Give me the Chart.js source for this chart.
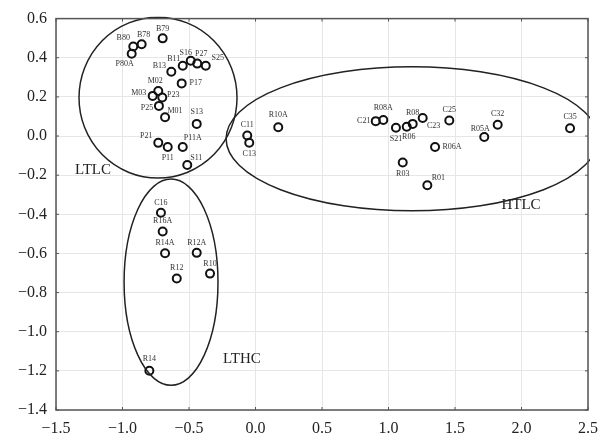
<!DOCTYPE html>
<html>
<head>
<meta charset="utf-8">
<script src="https://cdn.jsdelivr.net/npm/chart.js@4.4.1/dist/chart.umd.min.js"></script>
<style>
  body { margin: 0; background: #fff; }
  #wrap { width: 613px; height: 441px; }
</style>
</head>
<body>
<div id="wrap"><canvas id="myChart"></canvas></div>
<script>
/* datos */
const sampleNames = ['B79', 'B78', 'B80', 'P80A', 'S16', 'P27', 'S25', 'B11', 'B13', 'P17',
  'M02', 'M03', 'P23', 'P25', 'M01', 'S13', 'P21', 'P11', 'P11A', 'S11',
  'C11', 'C13', 'R10A', 'C21', 'R08A', 'S21', 'R06', 'R08', 'C23', 'R03',
  'C25', 'R06A', 'R05A', 'C32', 'C35', 'R01',
  'C16', 'R16A', 'R14A', 'R12A', 'R12', 'R10', 'R14'];
const scoreX = [-0.698, -0.856, -0.919, -0.931, -0.487, -0.438, -0.374, -0.547, -0.633, -0.555,
  -0.731, -0.773, -0.701, -0.726, -0.680, -0.442, -0.731, -0.660, -0.547, -0.513,
  -0.062, -0.047, 0.171, 0.904, 0.961, 1.056, 1.137, 1.182, 1.257, 1.107,
  1.457, 1.350, 1.720, 1.821, 2.365, 1.292,
  -0.711, -0.698, -0.680, -0.442, -0.592, -0.342, -0.798];
const scoreY = [0.499, 0.469, 0.457, 0.420, 0.385, 0.370, 0.359, 0.359, 0.328, 0.269,
  0.230, 0.205, 0.197, 0.154, 0.096, 0.062, -0.035, -0.056, -0.056, -0.148,
  0.003, -0.034, 0.045, 0.076, 0.082, 0.042, 0.047, 0.062, 0.092, -0.135,
  0.079, -0.056, -0.005, 0.058, 0.040, -0.252,
  -0.392, -0.488, -0.599, -0.597, -0.728, -0.703, -1.199];
const xTicks = [-1.5, -1.0, -0.5, 0.0, 0.5, 1.0, 1.5, 2.0, 2.5];
const yTicks = [-1.4, -1.2, -1.0, -0.8, -0.6, -0.4, -0.2, 0.0, 0.2, 0.4, 0.6];

/* grupos (elipses en unidades de datos) */
const groupNames = ['LTLC', 'HTLC', 'LTHC'];
const groupCenterX = [-0.733, 1.177, -0.635];
const groupCenterY = [0.196, -0.014, -0.747];
const groupRadiusX = [0.594, 1.398, 0.353];
const groupRadiusY = [0.411, 0.368, 0.527];
const groupLabelX = [-1.222, 1.996, -0.102];
const groupLabelY = [-0.172, -0.352, -1.138];

/* posición de etiquetas (px respecto al punto) */
const labelOffset = {
  B79: [0, -9], B78: [2, -9], B80: [-10, -9], P80A: [-7, 10], S16: [-5, -8], P27: [4, -10],
  S25: [12, -8], B11: [-9, -7], B13: [-12, -6], P17: [14, 0], M02: [-3, -10], M03: [-14, -3],
  P23: [11, -3], P25: [-12, 2], M01: [10, -6], S13: [0, -12], P21: [-12, -7], P11: [0, 11],
  P11A: [10, -9], S11: [9, -7], C11: [0, -11], C13: [0, 11], R10A: [0, -12], C21: [-12, 0],
  R08A: [0, -12], S21: [0, 11], R06: [2, 10], R08: [0, -11], C23: [11, 8], R03: [0, 11],
  C25: [0, -11], R06A: [17, 0], R05A: [-4, -8], C32: [0, -11], C35: [0, -11], R01: [11, -7],
  C16: [0, -10], R16A: [0, -11], R14A: [0, -10], R12A: [0, -10], R12: [0, -11], R10: [0, -10],
  R14: [0, -12]
};

const points = scoreX.map((x, i) => ({ x: x, y: scoreY[i] }));
const fmt = v => (v < 0 ? '\u2212' : '') + Math.abs(v).toFixed(1);

/* marco y marcas hacia adentro */
const framePlugin = {
  id: 'frame',
  afterDraw(chart) {
    const { ctx, chartArea: a, scales } = chart;
    ctx.save();
    ctx.strokeStyle = '#555';
    ctx.lineWidth = 1.5;
    ctx.strokeRect(a.left, a.top, a.right - a.left, a.bottom - a.top);
    ctx.lineWidth = 1;
    ctx.beginPath();
    xTicks.forEach(t => {
      const px = scales.x.getPixelForValue(t);
      ctx.moveTo(px, a.bottom); ctx.lineTo(px, a.bottom - 3);
      ctx.moveTo(px, a.top); ctx.lineTo(px, a.top + 3);
    });
    yTicks.forEach(t => {
      const py = scales.y.getPixelForValue(t);
      ctx.moveTo(a.left, py); ctx.lineTo(a.left + 3, py);
      ctx.moveTo(a.right, py); ctx.lineTo(a.right - 3, py);
    });
    ctx.stroke();
    ctx.restore();
  }
};

/* elipses y etiquetas */
const groupPlugin = {
  id: 'groups',
  afterDatasetsDraw(chart) {
    const { ctx, scales, chartArea: a } = chart;
    const sx = scales.x, sy = scales.y;
    ctx.save();
    ctx.beginPath();
    ctx.rect(a.left - 2, a.top - 2, a.right - a.left + 4, a.bottom - a.top + 4);
    ctx.clip();
    ctx.strokeStyle = '#222';
    ctx.lineWidth = 1.5;
    groupNames.forEach((g, i) => {
      const cx = sx.getPixelForValue(groupCenterX[i]);
      const cy = sy.getPixelForValue(groupCenterY[i]);
      const rx = Math.abs(sx.getPixelForValue(groupCenterX[i] + groupRadiusX[i]) - cx);
      const ry = Math.abs(sy.getPixelForValue(groupCenterY[i] + groupRadiusY[i]) - cy);
      ctx.beginPath();
      ctx.ellipse(cx, cy, rx, ry, 0, 0, Math.PI * 2);
      ctx.stroke();
    });
    ctx.restore();

    ctx.save();
    ctx.fillStyle = '#222';
    ctx.textAlign = 'center';
    ctx.textBaseline = 'middle';
    ctx.font = '15px "Liberation Serif"';
    groupNames.forEach((g, i) => {
      ctx.fillText(g, sx.getPixelForValue(groupLabelX[i]), sy.getPixelForValue(groupLabelY[i]));
    });
    ctx.font = '8px "Liberation Serif"';
    ctx.fillStyle = '#333';
    const meta = chart.getDatasetMeta(0);
    meta.data.forEach((pt, i) => {
      const off = labelOffset[sampleNames[i]] || [0, -10];
      ctx.fillText(sampleNames[i], pt.x + off[0], pt.y + off[1]);
    });
    ctx.restore();
  }
};

const config = {
  type: 'scatter',
  data: {
    datasets: [{
      label: 'Muestras',
      data: points,
      pointRadius: 4,
      pointHoverRadius: 4,
      borderWidth: 2,
      borderColor: '#111',
      backgroundColor: 'rgba(255,255,255,0)'
    }]
  },
  options: {
    responsive: true,
    maintainAspectRatio: false,
    animation: false,
    layout: { padding: { top: 13, right: 25, left: 0, bottom: 0 } },
    plugins: { legend: { display: false }, tooltip: { enabled: false } },
    scales: {
      x: {
        type: 'linear',
        min: -1.5, max: 2.5,
        afterBuildTicks: s => { s.ticks = xTicks.map(v => ({ value: v })); },
        afterFit: s => { s.height = 31; },
        grid: { color: '#e6e6e6', drawTicks: false },
        border: { display: false },
        ticks: { padding: 9, color: '#222', font: { family: 'Liberation Serif', size: 16 }, callback: v => fmt(v) }
      },
      y: {
        type: 'linear',
        min: -1.4, max: 0.6,
        afterBuildTicks: s => { s.ticks = yTicks.map(v => ({ value: v })); },
        afterFit: s => { s.width = 56; },
        grid: { color: '#e6e6e6', drawTicks: false },
        border: { display: false },
        ticks: { padding: 9, color: '#222', font: { family: 'Liberation Serif', size: 16 }, callback: v => fmt(v) }
      }
    }
  },
  plugins: [framePlugin, groupPlugin]
};

const myChart = new Chart(document.getElementById('myChart'), config);
</script>
</body>
</html>
